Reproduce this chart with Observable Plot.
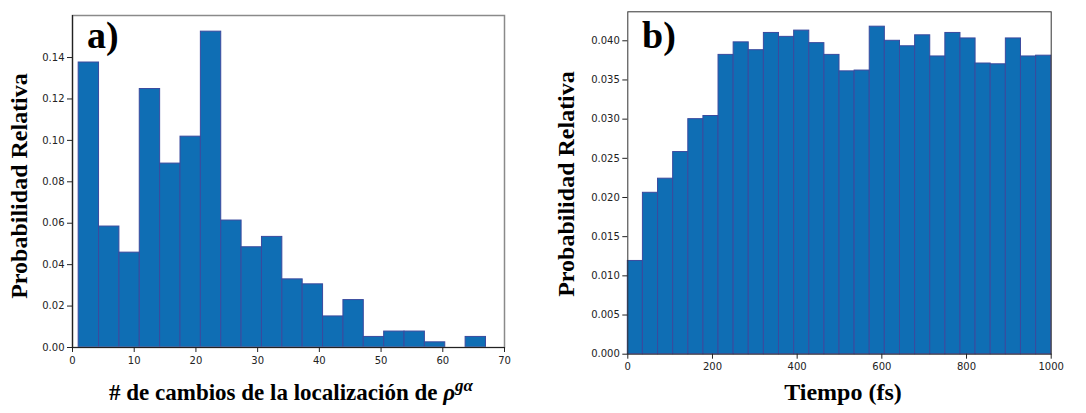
<!DOCTYPE html>
<html><head><meta charset="utf-8">
<script src="https://cdn.jsdelivr.net/npm/d3@7"></script>
<script src="https://cdn.jsdelivr.net/npm/@observablehq/plot@0.6"></script>
<style>
body{margin:0;background:#fff;}
#wrap{position:relative;width:1086px;height:413px;overflow:hidden;background:#fff;}
#a{position:absolute;left:0;top:0;}
#b{position:absolute;left:540px;top:0;}
</style></head><body><div id="wrap"><div id="a"></div><div id="b"></div></div>
<script>
// ---- Panel a) data ----
const edgesA = [1, 4.3, 7.6, 10.9, 14.2, 17.5, 20.8, 24.1, 27.4, 30.7, 34, 37.3, 40.6, 43.9, 47.2, 50.5, 53.8, 57.1, 60.4, 63.7, 67];
const valuesA = [0.1376, 0.0584, 0.0458, 0.1248, 0.0888, 0.1018, 0.1525, 0.0613, 0.0484, 0.0534, 0.0329, 0.0305, 0.0150, 0.0229, 0.0051, 0.0077, 0.0077, 0.0025, 0, 0.0051];
const xTicksA = [0, 10, 20, 30, 40, 50, 60, 70];
const yTicksA = [0, 0.02, 0.04, 0.06, 0.08, 0.10, 0.12, 0.14];

// ---- Panel b) data ----
const edgesB = [0, 35.7, 71.4, 107.1, 142.9, 178.6, 214.3, 250, 285.7, 321.4, 357.1, 392.9, 428.6, 464.3, 500, 535.7, 571.4, 607.1, 642.9, 678.6, 714.3, 750, 785.7, 821.4, 857.1, 892.9, 928.6, 964.3, 1000];
const valuesB = [0.0119, 0.0206, 0.0224, 0.0258, 0.0300, 0.0304, 0.0382, 0.0398, 0.0388, 0.0410, 0.0405, 0.0413, 0.0397, 0.0382, 0.0361, 0.0362, 0.0418, 0.0400, 0.0393, 0.0407, 0.0380, 0.0410, 0.0403, 0.0371, 0.0370, 0.0403, 0.0380, 0.0381];
const xTicksB = [0, 200, 400, 600, 800, 1000];
const yTicksB = [0, 0.005, 0.010, 0.015, 0.020, 0.025, 0.030, 0.035, 0.040];

const dataA = valuesA.map((v, i) => ({x1: edgesA[i], x2: edgesA[i + 1], y: v}));
const dataB = valuesB.map((v, i) => ({x1: edgesB[i], x2: edgesB[i + 1], y: v}));

const barFill = "#0f6eb4", barStroke = "#3a4a9e";
const baseStyle = {fontFamily: "DejaVu Sans", fontSize: "10px", color: "#222", background: "white", overflow: "visible"};
const serif = "'Liberation Serif', 'Times New Roman', serif";

const plotA = Plot.plot({
  width: 540, height: 413,
  marginLeft: 72, marginRight: 36, marginTop: 15, marginBottom: 66,
  style: baseStyle,
  x: {domain: [0, 70]},
  y: {domain: [0, 0.1603]},
  marks: [
    Plot.rectY(dataA, {x1: "x1", x2: "x2", y: "y", fill: barFill, stroke: barStroke, strokeWidth: 1}),
    Plot.frame({stroke: "#8a8a8a", strokeWidth: 1.5}),
    Plot.ruleX([0], {stroke: "#222", strokeWidth: 1.2}),
    Plot.ruleY([0], {stroke: "#222", strokeWidth: 1.2}),
    Plot.axisX({ticks: xTicksA, tickSize: 5, tickPadding: 4, tickFormat: d3.format("d"), label: null}),
    Plot.axisY({ticks: yTicksA, tickSize: 5, tickPadding: 3, tickFormat: d3.format(".2f"), label: null})
  ]
});
document.getElementById("a").append(plotA);

const plotB = Plot.plot({
  width: 546, height: 413,
  marginLeft: 87.3, marginRight: 35.3, marginTop: 11.3, marginBottom: 59.3,
  style: baseStyle,
  x: {domain: [0, 1000]},
  y: {domain: [0, 0.0437]},
  marks: [
    Plot.rectY(dataB, {x1: "x1", x2: "x2", y: "y", fill: barFill, stroke: barStroke, strokeWidth: 1}),
    Plot.frame({stroke: "#333", strokeWidth: 1}),
    Plot.axisX({ticks: xTicksB, tickSize: 5, tickPadding: 4, tickFormat: d3.format("d"), label: null}),
    Plot.axisY({ticks: yTicksB, tickSize: 5, tickPadding: 3, tickFormat: d3.format(".3f"), label: null})
  ]
});
document.getElementById("b").append(plotB);

function addText(svg, x, y, txt, size, rotate) {
  const t = d3.select(svg).append("text")
    .attr("transform", `translate(${x},${y})` + (rotate ? ` rotate(${rotate})` : ""))
    .attr("text-anchor", "middle")
    .attr("font-family", serif)
    .attr("font-weight", "bold")
    .attr("font-size", size)
    .attr("fill", "#000");
  if (txt != null) t.text(txt);
  return t;
}

// Panel a) labels
addText(plotA, 0, 0, null, 38).attr("text-anchor", "start").attr("transform", "translate(87,48)").text("a)");
addText(plotA, 27, 186, "Probabilidad Relativa", 24, -90);
const xl = addText(plotA, 291, 400, null, 23);
xl.append("tspan").text("# de cambios de la localización de ");
xl.append("tspan").attr("font-style", "italic").text("ρ");
xl.append("tspan").attr("font-style", "italic").attr("font-size", 17).attr("dy", -9).text("gα");

// Panel b) labels
addText(plotB, 0, 0, null, 38).attr("text-anchor", "start").attr("transform", "translate(102,48)").text("b)");
addText(plotB, 34, 184, "Probabilidad Relativa", 24, -90);
addText(plotB, 303, 400, "Tiempo (fs)", 24);
</script>
</body></html>
